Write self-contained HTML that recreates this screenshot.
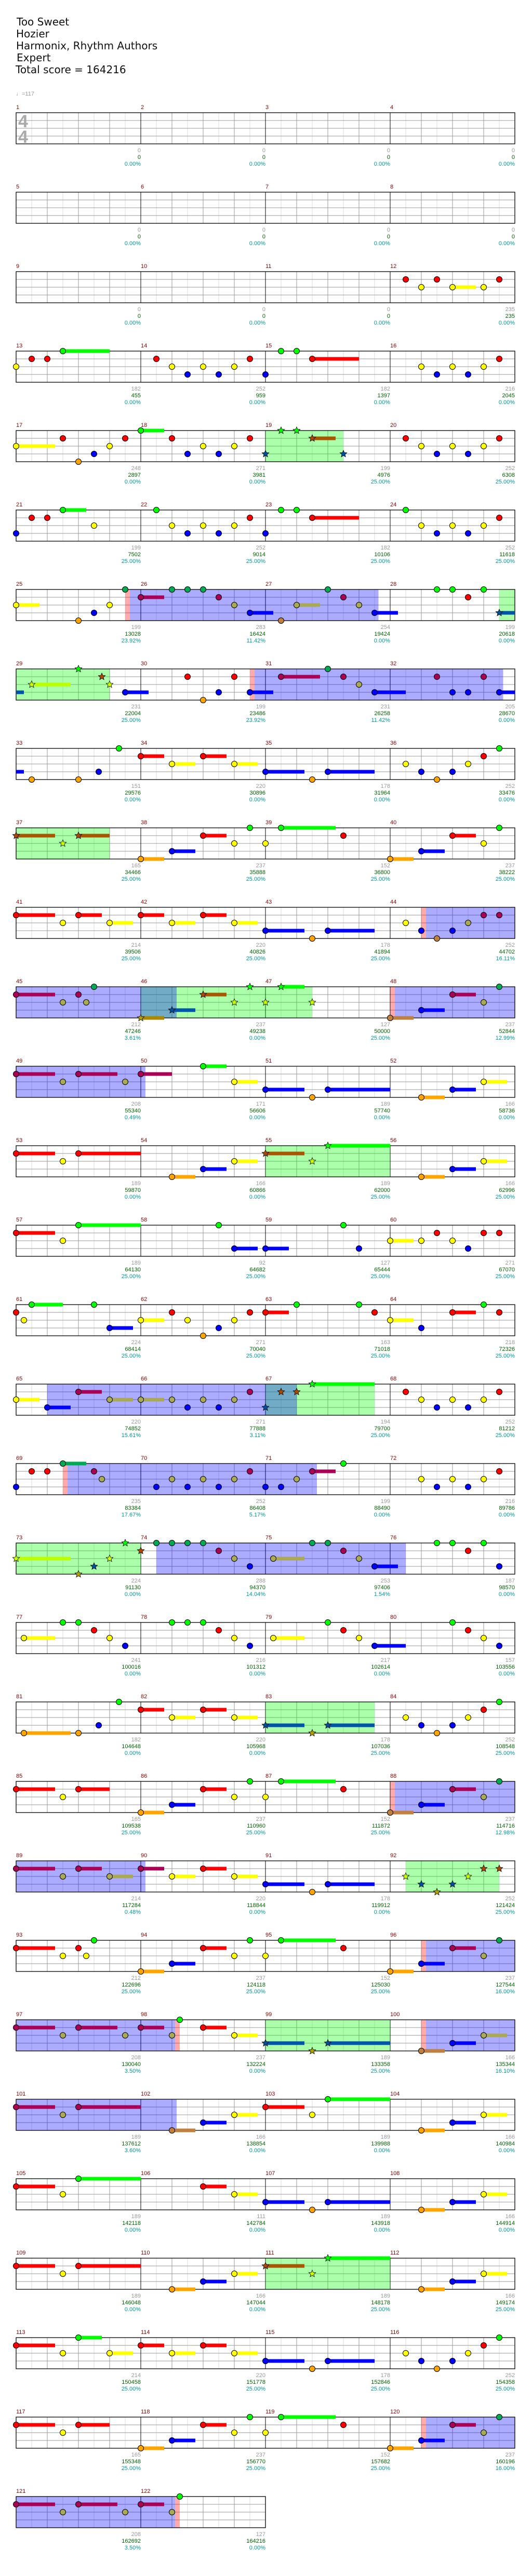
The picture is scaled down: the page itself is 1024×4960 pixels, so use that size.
<!DOCTYPE html>
<html><head><meta charset="utf-8">
<style>
html,body{margin:0;padding:0;background:#fff;width:1024px;height:4960px;overflow:hidden}
svg{display:block}
</style></head>
<body>
<svg id="c" xmlns="http://www.w3.org/2000/svg" width="1024" height="4960"></svg>
<script>
const N={
12:"R1 Y2 R3 Y4-1.5 Y6 R7",13:"Y0 R1 R2 G3-3",14:"R1 Y2 B3 Y4 B5 Y6 R7",15:"B0 G1 G2 R3-3",16:"Y2 B3 Y4 B5 Y6 R7",
17:"Y0-2.5 R3 O4 B5 Y6 R7",18:"G0-1.5 R2 B3 Y4 B5 Y6 R7",19:"B0 G1 G2 R3-1.5 B5",20:"R1 Y2 B3 Y4 B5 Y6 R7",
21:"B0 R1 R2 G3-1.5 Y5",22:"G1 Y2 B3 Y4 B5 Y6 R7",23:"B0 G1 G2 R3-3",24:"G1 Y2 B3 Y4 B5 Y6 R7",
25:"Y0-1.5 O4 B5 Y6 G7",26:"R0-1.5 G2 G3 G4 R5 Y6 B7-1.5",27:"O1 Y2-1.5 G4 R5 Y6 B7-1.5",28:"G3 G4 R5 G6 B7-1.5",
29:"Y1-2.5 G4 R5.5 Y6 B7-1.5",30:"R3 O4 B5 R6 B7-1.5",31:"R1-2.5 G4 R5 Y6 B7-2",32:"R3 B4 B5 R6 B7-1.5",
33:"O1 O4 B5.3 G6.6",34:"R0-1.5 Y2-1.5 R4-1.5 Y6-1.5",35:"B0-2.5 O3 B4-3",36:"Y1 B2 O3 B4 Y5 R6 G7",
37:"R0-2.5 Y3 R4-2",38:"O0-1.5 B2-1.5 R4-1.5 Y6 G7",39:"Y0 G1-3.5 R5",40:"O0-1.5 B2-1.5 R4-1.5 Y6 G7",
41:"R0-2.5 Y3 R4-1.5 Y6-1.5",42:"R0-1.5 Y2-1.5 R4-1.5 Y6-1.5",43:"B0-2.5 O3 B4-3",44:"Y1 B2 O3 B4 Y5 R6 R7",
45:"R0-2.5 Y3 R4 Y4.5 G5",46:"O0-1.5 B2-1.5 R4-1.5 Y6 G7",47:"Y0 G1-1.5 Y3",48:"O0-1.5 B2-1.5 R4-1.5 Y6 G7",
49:"R0-2.5 Y3 R4-2.5 Y7",50:"R0-2 G4-1.5 Y6-1.5",51:"B0-2.5 O3 B4-4",52:"O2-1.5 B4-1.5 Y6-1.5",
53:"R0-2.5 Y3 R4-4",54:"O2-1.5 B4-1.5 Y6-1.5",55:"R0-2.5 Y3 G4-4",56:"O2-1.5 B4-1.5 Y6-1.5",
57:"R0-2.5 Y3 G4-4",58:"G5 B6-1.5",59:"B0-1.5 G5 B6",60:"Y0-1.5 Y2 R3 Y4 B5 R6 R7",
61:"R0 Y0.5 G1-2 G5 B6-1.5",62:"Y0-1.5 R2 Y3 O4 B5 Y6 R7",63:"R0-1.5 G2 G6 R7",64:"Y0-1.5 B2 R4-1.5 G6 R7",
65:"Y0-1.5 B2-1.5 R4-1.5 Y6-1.5",66:"Y0-1.5 Y2 B3 Y4 B5 Y6 R7",67:"B0 R1 R2 G3-4",68:"R1 Y2 B3 Y4 B5 Y6 R7",
69:"B0 R1 R2 G3-1.5 R5 Y5.5",70:"B1 Y2 B3 Y4 B5 Y6 R7",71:"B0 B1 Y2 R3-1.5 G5",72:"Y2 B3 Y4 B5 Y6 R7",
73:"Y0-3.5 O4 B5 Y6 G7",74:"R0 G1 G2 G3 G4 R5 Y6 B7",75:"Y0.5-2 G3 G4 R5 Y6 B7-1.5",76:"G3 G4 R5 G6 B7",
77:"Y0.5-2 G3 G4 R5 Y6 B7",78:"G2 G3 G4 R5 Y6 B7",79:"Y0.5-2 G4 R5 Y6 B7-2",80:"G4 R5 Y6 B7",
81:"O0.5-3 O4 B5.3 G6.6",82:"R0-1.5 Y2-1.5 R4-1.5 Y6-1.5",83:"B0-2.5 O3 B4-3",84:"Y1 B2 O3 B4 Y5 R6 G7",
85:"R0-2.5 Y3 R4-2",86:"O0-1.5 B2-1.5 R4-1.5 Y6 G7",87:"Y0 G1-3.5 R5",88:"O0-1.5 B2-1.5 R4-1.5 Y6 G7",
89:"R0-2.5 Y3 R4-1.5 Y6-1.5",90:"R0-1.5 Y2-1.5 R4-1.5 Y6-1.5",91:"B0-2.5 O3 B4-3",92:"Y1 B2 O3 B4 Y5 R6 R7",
93:"R0-2.5 Y3 R4 Y4.5 G5",94:"O0-1.5 B2-1.5 R4-1.5 Y6 G7",95:"Y0 G1-3.5 R5",96:"O0-1.5 B2-1.5 R4-1.5 Y6 G7",
97:"R0-2.5 Y3 R4-2.5 Y7",98:"R0-1.5 Y2 G2.5 R4-1.5 Y6-1.5",99:"B0-2.5 O3 B4-4",100:"O2-1.5 B4-1.5 Y6-1.5",
101:"R0-2.5 Y3 R4-4",102:"O2-1.5 B4-1.5 Y6-1.5",103:"R0-2.5 Y3 G4-4",104:"O2-1.5 B4-1.5 Y6-1.5",
105:"R0-2.5 Y3 G4-4",106:"R4-1.5 Y6-1.5",107:"B0-2.5 O3 B4-4",108:"O2-1.5 B4-1.5 Y6-1.5",
109:"R0-2.5 Y3 R4-4",110:"O2-1.5 B4-1.5 Y6-1.5",111:"R0-2.5 Y3 G4-4",112:"O2-1.5 B4-1.5 Y6-1.5",
113:"R0-2.5 Y3 G4-1.5 Y6-1.5",114:"R0-1.5 Y2-1.5 R4-1.5 Y6-1.5",115:"B0-2.5 O3 B4-3",116:"Y1 B2 O3 B4 Y5 R6 G7",
117:"R0-2.5 Y3 R4-2",118:"O0-1.5 B2-1.5 R4-1.5 Y6 G7",119:"Y0 G1-3.5 R5",120:"O0-1.5 B2-1.5 R4-1.5 Y6 G7",
121:"R0-2.5 Y3 R4-2.5 Y7",122:"R0-1.5 Y2 G2.5"};
const ST="0 0 0.00|0 0 0.00|0 0 0.00|0 0 0.00|0 0 0.00|0 0 0.00|0 0 0.00|0 0 0.00|0 0 0.00|0 0 0.00|0 0 0.00|235 235 0.00|182 455 0.00|252 959 0.00|182 1397 0.00|216 2045 0.00|248 2897 0.00|271 3981 0.00|199 4976 25.00|252 6308 25.00|199 7502 25.00|252 9014 25.00|182 10106 25.00|252 11618 25.00|199 13028 23.92|283 16424 11.42|254 19424 0.00|199 20618 0.00|231 22004 25.00|199 23486 23.92|231 26258 11.42|205 28670 0.00|151 29576 0.00|220 30896 0.00|178 31964 0.00|252 33476 0.00|165 34466 25.00|237 35888 25.00|152 36800 25.00|237 38222 25.00|214 39506 25.00|220 40826 25.00|178 41894 25.00|252 44702 16.11|212 47246 3.61|237 49238 0.00|127 50000 25.00|237 52844 12.99|208 55340 0.49|171 56606 0.00|189 57740 0.00|166 58736 0.00|189 59870 0.00|166 60866 0.00|189 62000 25.00|166 62996 25.00|189 64130 25.00|92 64682 25.00|127 65444 25.00|271 67070 25.00|224 68414 25.00|271 70040 25.00|163 71018 25.00|218 72326 25.00|220 74852 15.61|271 77888 3.11|194 79700 25.00|252 81212 25.00|235 83384 17.67|252 86408 5.17|199 88490 0.00|216 89786 0.00|224 91130 0.00|288 94370 14.04|253 97406 1.54|187 98570 0.00|241 100016 0.00|216 101312 0.00|217 102614 0.00|157 103556 0.00|182 104648 0.00|220 105968 0.00|178 107036 25.00|252 108548 25.00|165 109538 25.00|237 110960 25.00|152 111872 25.00|237 114716 12.98|214 117284 0.48|220 118844 0.00|178 119912 0.00|252 121424 25.00|212 122696 25.00|237 124118 25.00|152 125030 25.00|237 127544 16.00|208 130040 3.50|237 132224 0.00|189 133358 25.00|166 135344 16.10|189 137612 3.60|166 138854 0.00|189 139988 0.00|166 140984 0.00|189 142118 0.00|111 142784 0.00|189 143918 0.00|166 144914 0.00|189 146048 0.00|166 147044 0.00|189 148178 25.00|166 149174 25.00|214 150458 25.00|220 151778 25.00|178 152846 25.00|252 154358 25.00|165 155348 25.00|237 156770 25.00|152 157682 25.00|237 160196 16.00|208 162692 3.50|127 164216 0.00".split("|");
const GR=[[19,0,19,5],[28,7,29,6],[37,0,37,6],[46,0,47,3],[55,0,56,0],[67,0,67,7],[73,0,74,0],[83,0,83,7],[92,1,92,7],[99,0,100,0],[111,0,112,0]];
const BL=[[25,7.3,27,7.25],[30,7.3,32,7.25],[44,2.3,46,2.3],[48,0.3,50,0.3],[65,2,67,2],[69,3.3,71,3.3],[74,1,76,1],[88,0.3,90,0.3],[96,2.3,98,2.2],[100,2.3,102,2.3],[120,2.3,122,2.2]];
const PK=[[25,7],[30,7],[44,2],[48,0],[69,3],[88,0],[96,2],[100,2],[120,2],[98,2.2],[122,2.2]];
const ab=(m,p)=>(m-1)*8+p;
const gr=GR.map(r=>[ab(r[0],r[1]),ab(r[2],r[3])]);
const bl=BL.map(r=>[ab(r[0],r[1]),ab(r[2],r[3])]);
const pk=PK.map(r=>[ab(r[0],r[1]),ab(r[0],r[1])+0.3]);
const LN={G:0,R:1,Y:2,B:3,O:4};
const C={G:"#00ff00",R:"#ff0000",Y:"#ffff00",B:"#0000ff",O:"#ffa500"};
const CS={G:"#00aa55",R:"#aa0055",Y:"#aaaa55",B:"#0000ff",O:"#c08040"};
const CT={G:"#00ff00",R:"#b04800",Y:"#ccff00",B:"#0050a0",O:"#b0a000"};
const SUT={G:"#00ff00",R:"#aa5500",Y:"#bbff00",B:"#0055aa",O:"#aa8800"};
function pos(m){const r=Math.floor((m-1)/4),c=(m-1)%4;return [31+240*c,217+153*r];}
let bg="",rg="",ln="",su="",nt="",tx="";
tx+='<g font-family="DejaVu Sans, Liberation Sans, sans-serif" font-size="20" fill="#111">'+
'<text x="32" y="49">Too Sweet</text><text x="31" y="72">Hozier</text><text x="31" y="95">Harmonix, Rhythm Authors</text><text x="32" y="118">Expert</text><text x="30" y="141">Total score = 164216</text></g>';
tx+='<text x="31" y="184" font-family="Liberation Sans, sans-serif" font-size="11" fill="#999">\u2669=117</text>';
tx+='<g font-family="Liberation Sans, sans-serif" font-weight="bold" font-size="34" fill="#aaa"><text x="35" y="245">4</text><text x="35" y="275">4</text></g>';
function star(cx,cy,r,fill){let p=[];for(let i=0;i<10;i++){const a=-Math.PI/2+i*Math.PI/5,rr=i%2?r*0.45:r;p.push((cx+rr*Math.cos(a)).toFixed(1)+","+(cy+rr*Math.sin(a)).toFixed(1));}return '<polygon points="'+p.join(" ")+'" fill="'+fill+'" stroke="#000" stroke-width="0.8"/>';}
function inR(list,a,lo,hi){for(const r of list){if(a>=r[0]-lo&&a<=r[1]+hi)return true;}return false;}
for(let m=1;m<=122;m++){
 const [x0,y0]=pos(m);
 for(let k=1;k<8;k++){ln+=`<line x1="${x0+30*k}" y1="${y0}" x2="${x0+30*k}" y2="${y0+60}" stroke="${k%2?'#dcdcdc':'#999'}" stroke-width="1"/>`;}
 for(let l=1;l<4;l++){ln+=`<line x1="${x0}" y1="${y0+15*l}" x2="${x0+240}" y2="${y0+15*l}" stroke="#999" stroke-width="1"/>`;}
 ln+=`<line x1="${x0}" y1="${y0}" x2="${x0}" y2="${y0+60}" stroke="#000" stroke-width="1"/>`;
 const ms=(m-1)*8;
 const addReg=(list,col,op)=>{for(const r of list){const lo=Math.max(r[0],ms),hi=Math.min(r[1],ms+8);if(hi>lo)rg+=`<rect x="${(x0+(lo-ms)*30).toFixed(1)}" y="${y0}" width="${((hi-lo)*30).toFixed(1)}" height="60" fill="${col}" fill-opacity="${op}"/>`;}};
 addReg(gr,"#00ff00",0.33);addReg(bl,"#0000ff",0.33);addReg(pk,"#ff0000",0.33);
 tx+=`<text x="${x0}" y="${y0-7}" font-family="Liberation Sans, sans-serif" font-size="11" fill="#8b0000">${m}</text>`;
 const s=ST[m-1].split(" ");
 tx+=`<g font-family="Liberation Sans, sans-serif" font-size="11" text-anchor="end"><text x="${x0+240}" y="${y0+76}" fill="#999">${s[0]}</text><text x="${x0+240}" y="${y0+89}" fill="#006400">${s[1]}</text><text x="${x0+240}" y="${y0+102}" fill="#009999">${s[2]}%</text></g>`;
 if(N[m]){for(const t of N[m].split(" ")){
  const L=t[0];const [p,len]=t.slice(1).split("-").map(Number);
  const a=ms+p;const isG=inR(gr,a,0.05,0.05);const isB=!isG&&inR(bl,a,0.35,0);
  const cy=y0+15*LN[L];const cx=x0+p*30;
  const col=isG?CT[L]:isB?CS[L]:C[L];
  if(len){const sc=isG?SUT[L]:isB?CS[L]:C[L];
   let sx=cx,ex=cx+len*30;const rowEnd=31+960;
   if(ex>rowEnd&&m%4==0){su+=`<rect x="${sx}" y="${cy-3.5}" width="${rowEnd-sx}" height="7" fill="${sc}"/>`;
    su+=`<rect x="31" y="${cy-3.5+153}" width="${ex-rowEnd}" height="7" fill="${sc}"/>`;}
   else su+=`<rect x="${sx}" y="${cy-3.5}" width="${ex-sx}" height="7" fill="${sc}"/>`;}
  nt+=isG?star(cx,cy,7,col):`<circle cx="${cx}" cy="${cy}" r="5.5" fill="${col}" stroke="#000" stroke-width="1"/>`;
 }}
}
let bx="";
for(let r=0;r<31;r++){const n=r<30?4:2;const y=217+153*r;bx+=`<rect x="31" y="${y}" width="${240*n}" height="60" fill="none" stroke="#000" stroke-width="1.3"/>`;}
document.getElementById("c").innerHTML='<rect width="1024" height="4960" fill="#fff"/>'+ln+rg+bx+su+nt+tx;
</script>
</body></html>
